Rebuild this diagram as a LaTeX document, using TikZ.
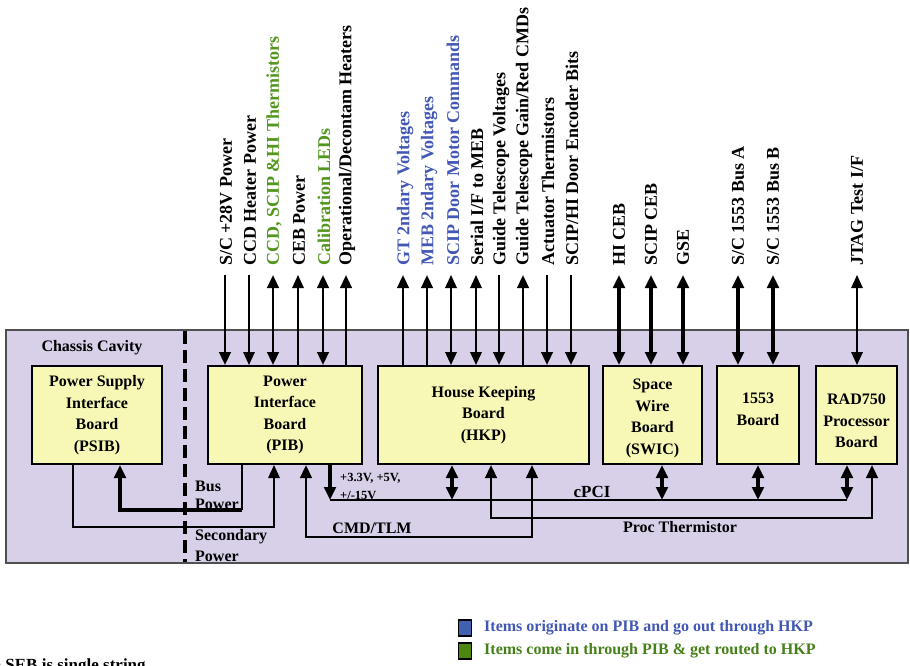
\documentclass[tikz,border=0pt]{standalone}
\usepackage{fontspec}
\setmainfont{Liberation Serif}
\usetikzlibrary{arrows.meta}
\definecolor{lav}{RGB}{215,208,232}
\definecolor{boardy}{RGB}{248,248,182}
\definecolor{lblue}{RGB}{66,88,180}
\definecolor{lgreen}{RGB}{82,150,30}
\definecolor{sqblue}{RGB}{64,96,176}
\definecolor{sqgreen}{RGB}{74,134,16}
\definecolor{framec}{RGB}{80,80,80}
\begin{document}
\begin{tikzpicture}[x=1pt,y=-1pt,
  >={Triangle[length=13pt,width=11.5pt]},
  board/.style={draw=black, line width=2pt, fill=boardy, minimum height=98pt, align=center,
    font=\fontsize{16}{21.5}\selectfont\bfseries, inner sep=2pt},
  sig/.style={rotate=90, anchor=west, inner sep=0pt, font=\fontsize{18}{18}\selectfont\bfseries},
  lbl/.style={font=\fontsize{16}{18}\selectfont\bfseries, inner sep=0pt},
  small/.style={font=\fontsize{12.5}{14}\selectfont\bfseries, inner sep=0pt},
  wA/.style={line width=1.6pt},
  wB/.style={line width=2pt},
  wC/.style={line width=2.7pt},
  wD/.style={line width=3.3pt},
  wE/.style={line width=4.2pt},
  keysq/.style={draw=black, line width=1.5pt, minimum width=13pt, minimum height=16pt, inner sep=0pt},
  keytxt/.style={anchor=west, inner sep=0pt, font=\fontsize{16}{18}\selectfont\bfseries}
]
\useasboundingbox (0,0) rectangle (910,665);

% chassis
\node[draw=framec, line width=1.5pt, fill=lav, minimum width=902pt, minimum height=233pt, inner sep=0pt] (chassis) at (457,446.5) {};
\node[lbl] (cc) at (92,348) {Chassis Cavity};

% boards
\node[board, minimum width=130pt] (psib) at (97,415) {Power Supply\\Interface\\Board\\(PSIB)};
\node[board, minimum width=154pt] (pib) at (285,415) {Power\\Interface\\Board\\(PIB)};
\node[board, minimum width=211pt] (hkp) at (483.5,415) {House Keeping\\Board\\(HKP)};
\node[board, minimum width=99pt] (swic) at (652.5,415) {\rule{0pt}{17pt}Space\\Wire\\Board\\(SWIC)};
\node[board, minimum width=82pt] (b1553) at (758,415) {1553\\Board\\[-9.5pt]\mbox{}};
\node[board, minimum width=81pt] (rad) at (856.5,415) {\rule{0pt}{23pt}RAD750\\Processor\\Board};

% top signal end points
\coordinate (t1) at (225,275);
\coordinate (t2) at (249,275);
\coordinate (t3) at (273,275);
\coordinate (t4) at (298,275);
\coordinate (t5) at (323,275);
\coordinate (t6) at (346,275);
\coordinate (t7) at (403,275);
\coordinate (t8) at (427,275);
\coordinate (t9) at (451,275);
\coordinate (t10) at (476,275);
\coordinate (t11) at (499,275);
\coordinate (t12) at (523,275);
\coordinate (t13) at (547,275);
\coordinate (t14) at (571,275);
\coordinate (t15) at (619,275);
\coordinate (t16) at (651,275);
\coordinate (t17) at (683,275);
\coordinate (t18) at (738,275);
\coordinate (t19) at (773,275);
\coordinate (t20) at (857,275);

% PIB signals
\draw[wC,->] (t1) -- (t1 |- pib.north);
\draw[wA,->] (t2) -- (t2 |- pib.north);
\draw[wC,<->] (t3) -- (t3 |- pib.north);
\draw[wA,<-] (t4) -- (t4 |- pib.north);
\draw[wC,<->] (t5) -- (t5 |- pib.north);
\draw[wC,<-] (t6) -- (t6 |- pib.north);
% HKP signals
\draw[wC,<-] (t7) -- (t7 |- hkp.north);
\draw[wC,<-] (t8) -- (t8 |- hkp.north);
\draw[wB,<->] (t9) -- (t9 |- hkp.north);
\draw[wB,<->] (t10) -- (t10 |- hkp.north);
\draw[wC,->] (t11) -- (t11 |- hkp.north);
\draw[wC,<-] (t12) -- (t12 |- hkp.north);
\draw[wC,->] (t13) -- (t13 |- hkp.north);
\draw[wC,->] (t14) -- (t14 |- hkp.north);
% SWIC, 1553, RAD750 signals
\draw[wD,<->] (t15) -- (t15 |- swic.north);
\draw[wE,<->] (t16) -- (t16 |- swic.north);
\draw[wE,<->] (t17) -- (t17 |- swic.north);
\draw[wE,<->] (t18) -- (t18 |- b1553.north);
\draw[wD,<->] (t19) -- (t19 |- b1553.north);
\draw[wA,<->] (t20) -- (t20 |- rad.north);

% signal labels
\node[sig] (l1) at (226,266) {S/C +28V Power};
\node[sig] (l2) at (250,266) {CCD Heater Power};
\node[sig, text=lgreen] (l3) at (274,266) {CCD, SCIP \&HI Thermistors};
\node[sig] (l4) at (299,266) {CEB Power};
\node[sig, text=lgreen] (l5) at (324,266) {Calibration LEDs};
\node[sig] (l6) at (347,266) {Operational/Decontam Heaters};
\node[sig, text=lblue] (l7) at (405,266) {GT 2ndary Voltages};
\node[sig, text=lblue] (l8) at (429,266) {MEB 2ndary Voltages};
\node[sig, text=lblue] (l9) at (453,266) {SCIP Door Motor Commands};
\node[sig] (l10) at (477,266) {Serial I/F to MEB};
\node[sig] (l11) at (501,266) {Guide Telescope Voltages};
\node[sig] (l12) at (524,266) {Guide Telescope Gain/Red CMDs};
\node[sig] (l13) at (548,266) {Actuator Thermistors};
\node[sig] (l14) at (572,266) {SCIP/HI Door Encoder Bits};
\node[sig] (l15) at (619,266) {HI CEB};
\node[sig] (l16) at (651,266) {SCIP CEB};
\node[sig] (l17) at (683,266) {GSE};
\node[sig] (l18) at (738,266) {S/C 1553 Bus A};
\node[sig] (l19) at (773,266) {S/C 1553 Bus B};
\node[sig] (l20) at (857,266) {JTAG Test I/F};

% bottom connections
\coordinate (sp1) at (73,527);
\coordinate (sp2) at (274,527);
\draw[wA,->] (sp1 |- psib.south) -- (sp1) -- (sp2) -- (sp2 |- pib.south);

\coordinate (bp1) at (242,510);
\coordinate (bp2) at (120,510);
\draw[wA] (bp1 |- pib.south) -- (bp1);
\draw[wD,->] (bp1) -- (bp2) -- (bp2 |- psib.south);

\coordinate (ct1) at (532,537);
\coordinate (ct2) at (306,537);
\draw[wC,<->] (ct1 |- hkp.south) -- (ct1) -- (ct2) -- (ct2 |- pib.south);

\coordinate (busL) at (330,500);
\coordinate (busR) at (847,500);
\draw[wC] (busL) -- (busR);
\draw[wD,->] (busL |- pib.south) -- (busL);
\coordinate (bh) at (452,500);
\coordinate (bs) at (662,500);
\coordinate (bm) at (758,500);
\draw[wD,<->] (bh |- hkp.south) -- (bh);
\draw[wD,<->] (bs |- swic.south) -- (bs);
\draw[wD,<->] (bm |- b1553.south) -- (bm);
\draw[wD,<->] (busR |- rad.south) -- (busR);

\coordinate (pt1) at (491,518);
\coordinate (pt2) at (872,518);
\draw[wC,<->] (pt1 |- hkp.south) -- (pt1) -- (pt2) -- (pt2 |- rad.south);

% dashed divider
\coordinate (dv1) at (185,331);
\coordinate (dv2) at (185,562);
\draw[line width=4pt, dash pattern=on 13pt off 6pt] (dv1) -- (dv2);

% bottom labels
\node[lbl, anchor=west] (bus1) at (195,486) {Bus};
\node[lbl, anchor=west] (bus2) at (195,504) {Power};
\node[lbl, anchor=west] (sec1) at (195,537) {Secondary};
\node[lbl, anchor=west] (sec2) at (195,556) {Power};
\node[small, anchor=west] (v1) at (340,478) {+3.3V, +5V,};
\node[small, anchor=west] (v2) at (340,495) {+/-15V};
\node[lbl] (cmd) at (372,528) {CMD/TLM};
\node[lbl, font=\fontsize{17}{18}\selectfont\bfseries] (cpci) at (592,492) {cPCI};
\node[lbl] (proc) at (680,527) {Proc Thermistor};

% legend
\node[keysq, fill=sqblue] (kb) at (465,628) {};
\node[keytxt, text=lblue] (kbt) at (484,628) {Items originate on PIB and go out through HKP};
\node[keysq, fill=sqgreen] (kg) at (465,651) {};
\node[keytxt, text=lgreen!85!black] (kgt) at (484,651) {Items come in through PIB \& get routed to HKP};

\node[anchor=base west, inner sep=0pt, font=\fontsize{17}{18}\selectfont\bfseries] (seb) at (-5,670) {• SEB is single string};
\end{tikzpicture}
\end{document}
